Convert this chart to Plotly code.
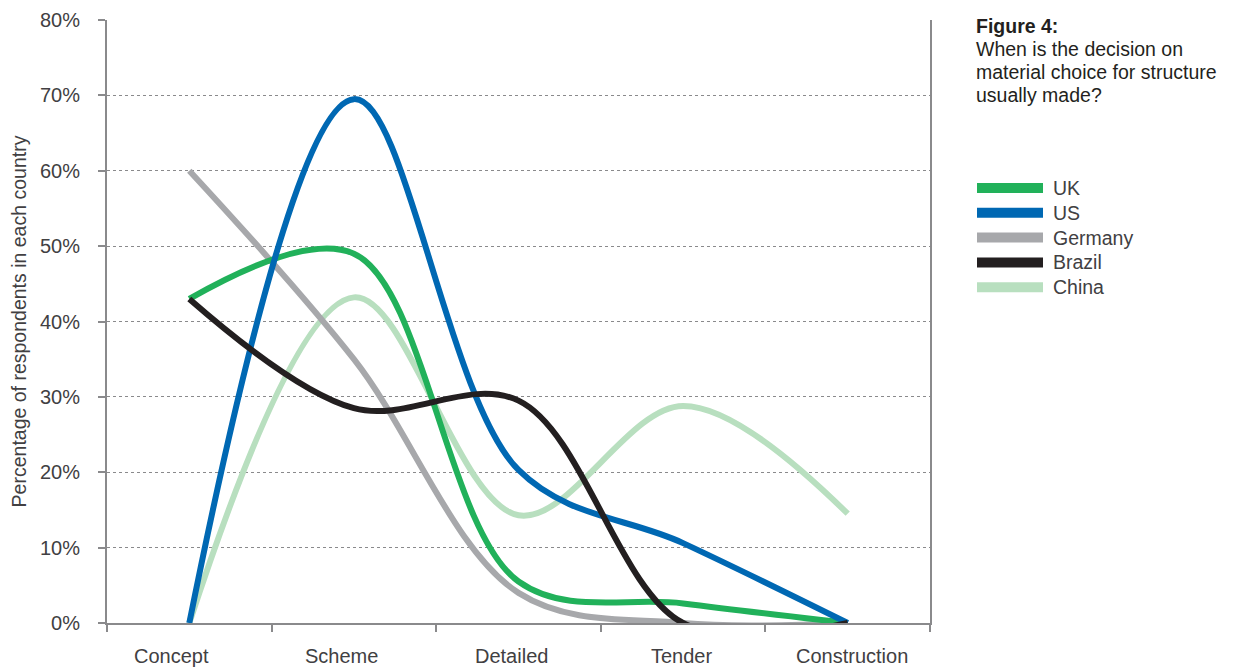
import plotly.graph_objects as go

stages = ["Concept", "Scheme", "Detailed", "Tender", "Construction"]
uk = [43, 49, 5.5, 2.6, 0]
us = [0, 69.5, 20.3, 10.6, 0]
germany = [60, 35, 4, 0, 0]
brazil = [43, 28.5, 29.5, 0, 0]
china = [0, 43.2, 14.3, 28.8, 14.5]

series_names = ["UK", "US", "Germany", "Brazil", "China"]
series_values = [uk, us, germany, brazil, china]
series_colors = ["#21b15a", "#0068b3", "#a7a8ab", "#231f20", "#b8dfbf"]

y_ticks = [0, 10, 20, 30, 40, 50, 60, 70, 80]
y_tick_labels = [f"{v}%" for v in y_ticks]

title_lines = ["<b>Figure 4:</b>", "When is the decision on",
               "material choice for structure", "usually made?"]

FONT = "Liberation Sans, Arial, Helvetica, sans-serif"
TEXT = "#414042"

# the page body has an 8px margin; positions below are given in window pixels
OFF = 8
FIG_W, FIG_H = 1238 - OFF, 668 - OFF
L, R, T, B = 107, 930, 20, 623
W, H = R - L, B - T
BAND = W / len(stages)

def px_x(p):
    return (p - L) / W

def px_y(p):
    return (B - p) / H

# category labels in the reference sit on an evenly spaced row, slightly off band centres
LABEL_PX = [171.5, 341.5, 511.5, 681.5, 852]

fig = go.Figure()
draw_order = [4, 2, 0, 1, 3]
for i in draw_order:
    fig.add_trace(go.Scatter(
        x=stages, y=series_values[i], name=series_names[i], mode="lines",
        line=dict(color=series_colors[i], width=6, shape="spline", smoothing=1.0),
        showlegend=False, cliponaxis=True,
    ))

shapes = []
annotations = []
for k, (name, col) in enumerate(zip(series_names, series_colors)):
    yc = 188 + k * 24.8
    shapes.append(dict(type="rect", xref="paper", yref="paper",
                       x0=px_x(977), x1=px_x(1043), y0=px_y(yc + 5), y1=px_y(yc - 5),
                       fillcolor=col, line=dict(width=0)))
    annotations.append(dict(xref="paper", yref="paper", x=px_x(1051), y=px_y(yc),
                            xanchor="left", yanchor="middle", text=name, showarrow=False,
                            font=dict(family=FONT, size=19.5, color=TEXT)))

for k, line in enumerate(title_lines):
    annotations.append(dict(xref="paper", yref="paper", x=px_x(974), y=px_y(25.5 + k * 23.3),
                            xanchor="left", yanchor="middle", align="left", showarrow=False,
                            text=line, font=dict(family=FONT, size=19.5, color="#231f20")))

for k, (stage, lp) in enumerate(zip(stages, LABEL_PX)):
    centre = L + (k + 0.5) * BAND
    annotations.append(dict(xref="x", yref="paper", x=stage, y=0, xshift=lp - centre,
                            yshift=-33, xanchor="center", yanchor="middle", showarrow=False,
                            text=stage, font=dict(family=FONT, size=20, color=TEXT)))

fig.update_layout(
    width=FIG_W, height=FIG_H,
    margin=dict(l=L - OFF, r=FIG_W - (R - OFF), t=T - OFF, b=FIG_H - (B - OFF), autoexpand=False),
    paper_bgcolor="white", plot_bgcolor="white",
    font=dict(family=FONT, size=20, color=TEXT),
    shapes=shapes, annotations=annotations,
    xaxis=dict(
        type="category", categoryorder="array", categoryarray=stages,
        range=[-0.5, 4.5], showgrid=False, showline=True, linecolor="#8a8a8c", linewidth=2,
        ticks="outside", tickson="boundaries", ticklen=7, tickwidth=2, tickcolor="#8a8a8c",
        showticklabels=False, zeroline=False, automargin=False,
    ),
    yaxis=dict(
        range=[0, 80], tickvals=y_ticks, ticktext=y_tick_labels,
        showgrid=True, gridcolor="#8a8a8c", griddash="dot", gridwidth=1,
        showline=True, linecolor="#8a8a8c", linewidth=2, mirror=True,
        ticks="outside", ticklen=7, tickwidth=2, tickcolor="#8a8a8c",
        ticklabelstandoff=14,
        tickfont=dict(family=FONT, size=20, color=TEXT), zeroline=False, automargin=False,
        title=dict(text="Percentage of respondents in each country", standoff=12,
                   font=dict(family=FONT, size=19.5, color=TEXT)),
    ),
)

fig.write_html("out.html")
